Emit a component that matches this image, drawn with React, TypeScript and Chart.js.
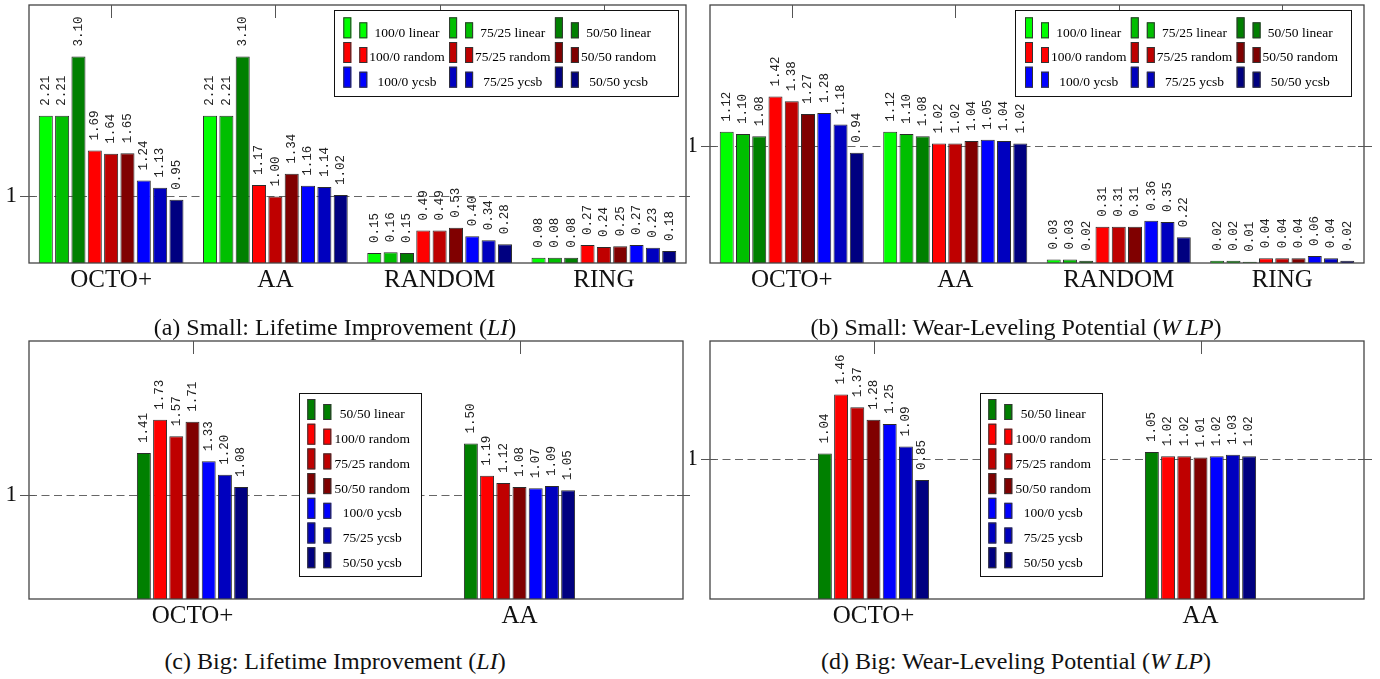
import React, { useEffect, useRef } from "react";
import { Chart, registerables } from "chart.js";

Chart.register(...registerables);

// ---------- data ----------
const smallCategories = ["OCTO+", "AA", "RANDOM", "RING"];
const bigCategories = ["OCTO+", "AA"];

const smallSeries = [
  "100/0 linear", "75/25 linear", "50/50 linear",
  "100/0 random", "75/25 random", "50/50 random",
  "100/0 ycsb", "75/25 ycsb", "50/50 ycsb",
];
const bigSeries = [
  "50/50 linear", "100/0 random", "75/25 random", "50/50 random",
  "100/0 ycsb", "75/25 ycsb", "50/50 ycsb",
];

// (a) Small: Lifetime Improvement, one row per series (OCTO+, AA, RANDOM, RING)
const smallLI = [
  [2.21, 2.21, 0.15, 0.08],
  [2.21, 2.21, 0.16, 0.08],
  [3.10, 3.10, 0.15, 0.08],
  [1.69, 1.17, 0.49, 0.27],
  [1.64, 1.00, 0.49, 0.24],
  [1.65, 1.34, 0.53, 0.25],
  [1.24, 1.16, 0.40, 0.27],
  [1.13, 1.14, 0.34, 0.23],
  [0.95, 1.02, 0.28, 0.18],
];

// (b) Small: Wear-Leveling Potential
const smallWLP = [
  [1.12, 1.12, 0.03, 0.02],
  [1.10, 1.10, 0.03, 0.02],
  [1.08, 1.08, 0.02, 0.01],
  [1.42, 1.02, 0.31, 0.04],
  [1.38, 1.02, 0.31, 0.04],
  [1.27, 1.04, 0.31, 0.04],
  [1.28, 1.05, 0.36, 0.06],
  [1.18, 1.04, 0.35, 0.04],
  [0.94, 1.02, 0.22, 0.02],
];

// (c) Big: Lifetime Improvement (OCTO+, AA)
const bigLI = [
  [1.41, 1.50],
  [1.73, 1.19],
  [1.57, 1.12],
  [1.71, 1.08],
  [1.33, 1.07],
  [1.20, 1.09],
  [1.08, 1.05],
];

// (d) Big: Wear-Leveling Potential
const bigWLP = [
  [1.04, 1.05],
  [1.46, 1.02],
  [1.37, 1.02],
  [1.28, 1.01],
  [1.25, 1.02],
  [1.09, 1.03],
  [0.85, 1.02],
];

const yTickValues = [1];

const seriesColors: Record<string, string> = {
  "100/0 linear": "#00ff00",
  "75/25 linear": "#00bf00",
  "50/50 linear": "#008000",
  "100/0 random": "#ff0000",
  "75/25 random": "#bf0000",
  "50/50 random": "#800000",
  "100/0 ycsb": "#0000ff",
  "75/25 ycsb": "#0000bf",
  "50/50 ycsb": "#000080",
};

// ---------- plugin ----------
const decorPlugin = {
  id: "decor",
  beforeDatasetsDraw(chart: any) {
    const { ctx, chartArea, scales } = chart;
    const y = scales.y;
    ctx.save();
    ctx.strokeStyle = "#666";
    ctx.lineWidth = 1.2;
    ctx.setLineDash([8, 4.5]);
    for (const v of yTickValues) {
      const py = Math.round(y.getPixelForValue(v)) + 0.5;
      ctx.beginPath();
      ctx.moveTo(chartArea.left, py);
      ctx.lineTo(chartArea.right + 8, py);
      ctx.stroke();
    }
    ctx.restore();
  },
  afterDatasetsDraw(chart: any, _a: any, opts: any) {
    const { ctx, chartArea, scales } = chart;
    const { left, right, top, bottom } = chartArea;
    const x = scales.x;
    const y = scales.y;

    // value labels
    ctx.save();
    ctx.fillStyle = "#222";
    ctx.font = '12.5px "Liberation Mono"';
    ctx.textAlign = "left";
    ctx.textBaseline = "middle";
    chart.data.datasets.forEach((ds: any, i: number) => {
      const meta = chart.getDatasetMeta(i);
      meta.data.forEach((bar: any, j: number) => {
        const v = ds.data[j];
        ctx.save();
        ctx.translate(bar.x, bar.y - 10);
        ctx.rotate(-Math.PI / 2);
        ctx.fillText(v.toFixed(2), 0, 0);
        ctx.restore();
      });
    });
    ctx.restore();

    // frame
    ctx.save();
    ctx.strokeStyle = "#444";
    ctx.lineWidth = 1.3;
    ctx.strokeRect(left, top, right - left, bottom - top);
    // top ticks
    ctx.lineWidth = 1;
    ctx.strokeStyle = "#555";
    for (let i = 0; i < x.ticks.length; i++) {
      const px = Math.round(x.getPixelForTick(i)) + 0.5;
      ctx.beginPath();
      ctx.moveTo(px, top);
      ctx.lineTo(px, top + 13);
      ctx.stroke();
    }
    // y ticks at both sides
    for (const v of yTickValues) {
      const py = Math.round(y.getPixelForValue(v)) + 0.5;
      ctx.beginPath();
      ctx.moveTo(left - 9, py);
      ctx.lineTo(left + 6, py);
      ctx.moveTo(right - 6, py);
      ctx.lineTo(right + 8, py);
      ctx.stroke();
    }
    ctx.restore();

    // legend
    const lg = opts.legend;
    if (lg) {
      ctx.save();
      ctx.fillStyle = "#fff";
      ctx.fillRect(lg.x, lg.y, lg.w, lg.h);
      ctx.strokeStyle = "#111";
      ctx.lineWidth = 1;
      ctx.strokeRect(lg.x + 0.5, lg.y + 0.5, lg.w, lg.h);
      ctx.font = '13.5px "Liberation Serif"';
      ctx.textAlign = "center";
      ctx.textBaseline = "alphabetic";
      chart.data.datasets.forEach((ds: any, i: number) => {
        const c = i % lg.cols;
        const r = Math.floor(i / lg.cols);
        const ix = lg.x + lg.iconX + c * lg.colW;
        const iy = lg.y + lg.iconY + r * lg.rowH;
        ctx.fillStyle = ds.backgroundColor;
        ctx.strokeStyle = "#333";
        ctx.fillRect(ix, iy, 8, 21);
        ctx.strokeRect(ix + 0.5, iy + 0.5, 7, 20);
        ctx.fillRect(ix + 16, iy + 5, 8, 16);
        ctx.strokeRect(ix + 16.5, iy + 5.5, 7, 15);
        ctx.fillStyle = "#000";
        ctx.fillText(ds.label, ix + lg.textOff, iy + 19.4);
      });
      ctx.restore();
    }
  },
};

// ---------- panels ----------
type PanelCfg = {
  left: number;
  top: number;
  w: number;
  h: number;
  padRight: number;
  yWidth: number;
  ymax: number;
  catPct: number;
  categories: string[];
  series: string[];
  values: number[][];
  legend: any;
};

const panels: PanelCfg[] = [
  {
    left: 0, top: 0, w: 690, h: 300, padRight: 4, yWidth: 29, ymax: 3.875, catPct: 0.895,
    categories: smallCategories, series: smallSeries, values: smallLI,
    legend: { x: 334, y: 10, w: 344, h: 86, cols: 3, colW: 105.8, rowH: 24.7, iconX: 9.3, iconY: 7.3, textOff: 63.7 },
  },
  {
    left: 690, top: 0, w: 690, h: 300, padRight: 16, yWidth: 20, ymax: 2.2, catPct: 0.895,
    categories: smallCategories, series: smallSeries, values: smallWLP,
    legend: { x: 325, y: 10, w: 336, h: 86, cols: 3, colW: 105.8, rowH: 24.7, iconX: 10, iconY: 7.3, textOff: 63.7 },
  },
  {
    left: 0, top: 336, w: 690, h: 300, padRight: 7, yWidth: 29, ymax: 2.49, catPct: 0.347,
    categories: bigCategories, series: bigSeries, values: bigLI,
    legend: { x: 299, y: 57, w: 122, h: 183, cols: 1, colW: 0, rowH: 24.7, iconX: 8.3, iconY: 6, textOff: 65 },
  },
  {
    left: 690, top: 336, w: 690, h: 300, padRight: 16, yWidth: 20, ymax: 1.843, catPct: 0.347,
    categories: bigCategories, series: bigSeries, values: bigWLP,
    legend: { x: 290, y: 57, w: 122, h: 183, cols: 1, colW: 0, rowH: 24.7, iconX: 8.3, iconY: 6, textOff: 65 },
  },
];

function Panel({ cfg }: { cfg: PanelCfg }) {
  const ref = useRef<HTMLCanvasElement>(null);
  useEffect(() => {
    const chart = new Chart(ref.current as HTMLCanvasElement, {
      type: "bar",
      data: {
        labels: cfg.categories,
        datasets: cfg.series.map((name, i) => ({
          label: name,
          data: cfg.values[i],
          backgroundColor: seriesColors[name],
          borderColor: "#2b2b2b",
          borderWidth: 1,
          categoryPercentage: cfg.catPct,
          barPercentage: 0.86,
        })),
      },
      options: {
        animation: false,
        responsive: false,
        devicePixelRatio: 1,
        layout: { padding: { top: 5, right: cfg.padRight, left: 0, bottom: 0 } },
        plugins: {
          legend: { display: false },
          tooltip: { enabled: false },
          decor: { legend: cfg.legend },
        } as any,
        scales: {
          x: {
            type: "category",
            grid: { display: false, drawTicks: false },
            border: { display: false },
            ticks: {
              color: "#111",
              font: { family: "Liberation Serif", size: 25 },
              padding: 2,
              maxRotation: 0,
              autoSkip: false,
            },
            afterFit: (s: any) => {
              s.height = 37;
              s.paddingLeft = 0; s.paddingRight = 0; s.paddingTop = 0; s.paddingBottom = 0;
            },
          },
          y: {
            type: "linear",
            min: 0,
            max: cfg.ymax,
            grid: { display: false, drawTicks: false },
            border: { display: false },
            ticks: {
              color: "#111",
              font: { family: "Liberation Serif", size: 23 },
              padding: 12,
            },
            afterBuildTicks: (s: any) => { s.ticks = yTickValues.map((v) => ({ value: v })); },
            afterFit: (s: any) => {
              s.width = cfg.yWidth;
              s.paddingLeft = 0; s.paddingRight = 0; s.paddingTop = 0; s.paddingBottom = 0;
            },
          },
        } as any,
      },
      plugins: [decorPlugin as any],
    });
    return () => chart.destroy();
  }, []);
  return (
    <div style={{ position: "absolute", left: cfg.left, top: cfg.top, width: cfg.w, height: cfg.h }}>
      <canvas ref={ref} width={cfg.w} height={cfg.h} style={{ width: cfg.w, height: cfg.h, display: "block" }} />
    </div>
  );
}

const captionStyle = (cx: number, top: number): React.CSSProperties => ({
  position: "absolute",
  left: cx - 300,
  width: 600,
  top,
  textAlign: "center",
  fontFamily: '"Liberation Serif"',
  fontSize: 24,
  lineHeight: "24px",
  color: "#111",
  whiteSpace: "nowrap",
});

export default function App() {
  return (
    <div style={{ position: "absolute", left: 0, top: 0, width: 1380, height: 679, background: "#fff", overflow: "hidden" }}>
      {panels.map((p, i) => <Panel key={i} cfg={p} />)}
      <div style={captionStyle(335, 315)}>(a) Small: Lifetime Improvement (<i>LI</i>)</div>
      <div style={captionStyle(1016, 315)}>(b) Small: Wear-Leveling Potential (<i>W{"\u2009"}LP</i>)</div>
      <div style={captionStyle(335, 649)}>(c) Big: Lifetime Improvement (<i>LI</i>)</div>
      <div style={captionStyle(1016, 649)}>(d) Big: Wear-Leveling Potential (<i>W{"\u2009"}LP</i>)</div>
    </div>
  );
}
